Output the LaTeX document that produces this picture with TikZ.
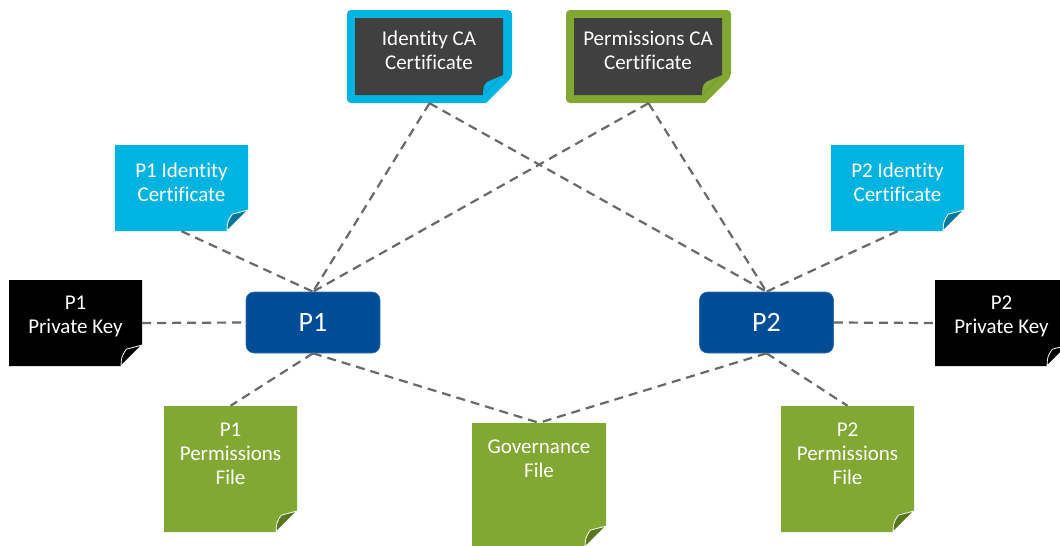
\documentclass[tikz,border=0pt]{standalone}
\usepackage{fontspec}
\setmainfont{Carlito}[Ligatures=NoCommon]
\usetikzlibrary{calc}
\definecolor{cyanc}{RGB}{0,180,226}
\definecolor{cyand}{RGB}{0,120,155}
\definecolor{greenc}{RGB}{130,168,52}
\definecolor{greend}{RGB}{88,118,30}
\definecolor{navy}{RGB}{0,76,151}
\definecolor{darkg}{RGB}{64,64,64}
\definecolor{linec}{RGB}{105,105,105}
% #1 name, #2 x1, #3 y1, #4 x2, #5 y2, #6 fill, #7 flap, #8 fold
\newcommand\notepage[8]{%
  \node[inner sep=0pt, minimum width={(#4-#2)*1pt}, minimum height={(#5-#3)*1pt}] (#1) at ({(#2+#4)/2},{(#3+#5)/2}) {};
  \fill[#6] ({#2},{#3}) -- ({#4},{#3}) -- ({#4},{#5-#8}) -- ({#4-#8},{#5}) -- ({#2},{#5}) -- cycle;
  \filldraw[fill=#7, draw=white, line width=0.8pt, line join=round] ({#4-#8},{#5}) .. controls ({#4-#8+0.5},{#5-#8*0.45}) .. ({#4-#8*0.75},{#5-#8*0.8}) -- ({#4},{#5-#8}) -- cycle;
}
% #1 name, #2 x1, #3 y1, #4 x2, #5 y2, #6 border colour
\newcommand\capage[6]{%
  \node[inner sep=0pt, minimum width={(#4-#2)*1pt}, minimum height={(#5-#3)*1pt}] (#1) at ({(#2+#4)/2},{(#3+#5)/2}) {};
  \fill[#6, rounded corners=4pt] ({#2},{#3}) -- ({#4},{#3}) -- ({#4},{#5-26}) [sharp corners] -- ({#4-26},{#5}) [rounded corners=4pt] -- ({#2},{#5}) -- cycle;
  \fill[darkg] ({#2+8},{#3+8}) -- ({#4-9},{#3+8}) -- ({#4-9},{#5-28}) -- ({#4-29},{#5-8}) -- ({#2+8},{#5-8}) -- cycle;
  \fill[#6] ({#4-29},{#5-8}) .. controls ({#4-28.5},{#5-17}) .. ({#4-25},{#5-21}) -- ({#4-9},{#5-28}) -- cycle;
}
\tikzset{
  txt/.style={text=white, align=center, font=\fontsize{21}{24}\selectfont, inner sep=0pt},
  pbox/.style={fill=navy, draw=navy!80!white, line width=0.6pt, rounded corners=8pt, minimum width=134pt, minimum height=61pt, inner sep=0pt, text=white, font=\fontsize{28}{30}\selectfont},
  link/.style={draw=linec, line width=2.2pt, dash pattern=on 9pt off 6pt},
}
\begin{document}
\begin{tikzpicture}[x=1pt,y=-1pt]
\useasboundingbox (0,0) rectangle (1060,546);
% CA certificates
\capage{idca}{347}{10}{512}{103}{cyanc}
\node[txt] at (429,50.5) {Identity CA\\Certificate};
\capage{pmca}{566}{10}{731}{103}{greenc}
\node[txt] at (648,50.5) {Permissions CA\\Certificate};
% identity certificates
\notepage{p1id}{115}{145}{248}{231}{cyanc}{cyand}{21}
\node[txt] at (181.5,182) {P1 Identity\\Certificate};
\notepage{p2id}{831}{145}{964}{231}{cyanc}{cyand}{21}
\node[txt] at (897.5,182) {P2 Identity\\Certificate};
% private keys
\notepage{p1key}{9}{280}{142}{366}{black}{black}{21}
\node[txt] at (75.5,316) {P1\\Private Key};
\notepage{p2key}{935}{280}{1068}{366}{black}{black}{21}
\node[txt] at (1001.5,316) {P2\\Private Key};
% participants
\node[pbox] (p1) at (313,322.5) {P1};
\node[pbox] (p2) at (766.5,322.5) {P2};
% permissions files
\notepage{p1perm}{164}{406}{297}{532}{greenc}{greend}{21}
\node[txt] at (230.5,453.5) {P1\\Permissions\\File};
\notepage{p2perm}{781}{406}{914}{532}{greenc}{greend}{21}
\node[txt] at (847.5,453.5) {P2\\Permissions\\File};
\notepage{gov}{472}{423}{606}{547}{greenc}{greend}{21}
\node[txt] at (539,459) {Governance\\File};
% connectors
\draw[link] (idca.south) -- (p1.north);
\draw[link] (idca.south) -- (p2.north);
\draw[link] (pmca.south) -- (p1.north);
\draw[link] (pmca.south) -- (p2.north);
\draw[link] (p1id.south) -- (p1.north);
\draw[link] (p2id.south) -- (p2.north);
\draw[link] (p1key.east) -- (p1.west);
\draw[link] (p2.east) -- (p2key.west);
\draw[link] (p1.south) -- (p1perm.north);
\draw[link] (p1.south) -- (gov.north);
\draw[link] (p2.south) -- (gov.north);
\draw[link] (p2.south) -- (p2perm.north);
\end{tikzpicture}
\end{document}
